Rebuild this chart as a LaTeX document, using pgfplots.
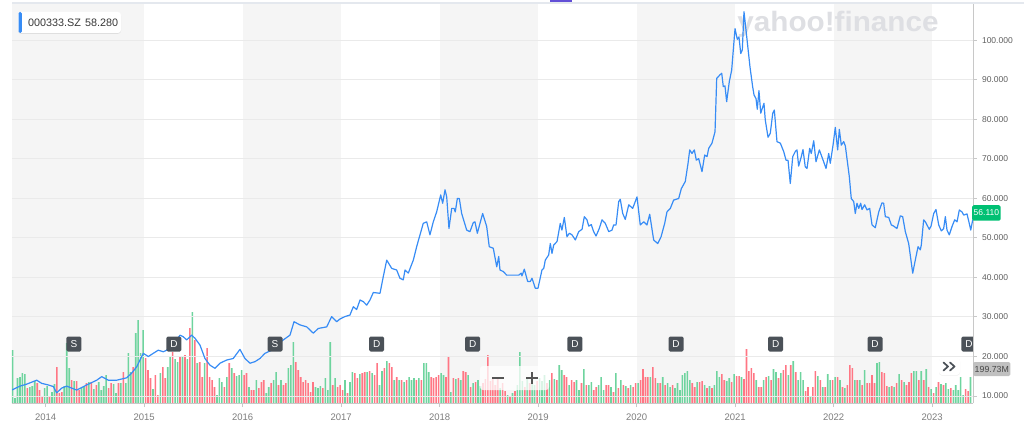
\documentclass[border=0pt]{standalone}
\usepackage{fontspec}
\setmainfont{Liberation Sans}
\usepackage{pgfplots}
\usepackage{pgfplotstable}
\pgfplotsset{compat=1.18}
\usetikzlibrary{shadows}

\definecolor{bandc}{RGB}{245,245,245}
\definecolor{gridc}{RGB}{234,234,234}
\definecolor{axisc}{RGB}{200,200,200}
\definecolor{ylab}{RGB}{95,95,95}
\definecolor{xlab}{RGB}{125,125,125}
\definecolor{priceblue}{RGB}{55,140,245}
\definecolor{volg}{RGB}{110,212,158}
\definecolor{volr}{RGB}{255,118,132}
\definecolor{markc}{RGB}{75,81,88}
\definecolor{upgreen}{RGB}{0,192,115}
\definecolor{wm}{RGB}{222,223,227}
\definecolor{topline}{RGB}{228,232,238}
\definecolor{purp}{RGB}{98,79,214}
\definecolor{boxtext}{RGB}{55,55,55}
\definecolor{volflag}{RGB}{192,192,192}
\definecolor{volflagtext}{RGB}{70,70,70}
\definecolor{zoomc}{RGB}{85,85,85}

% weekly-ish volume, in millions: g = up week, r = down week
\pgfplotstableread[row sep=\\]{
g r\\
318 0\\ 30 0\\ 150 0\\ 156 0\\ 180 0\\ 174 0\\ 0 90\\ 96 0\\ 102 0\\ 132 0\\
0 120\\ 0 78\\ 0 36\\ 90 0\\ 102 0\\ 0 36\\ 66 0\\ 114 0\\ 0 216\\ 0 60\\
0 66\\ 102 0\\ 360 0\\ 210 0\\ 0 138\\ 132 0\\ 0 132\\ 0 78\\ 90 0\\ 102 0\\
0 120\\ 126 0\\ 0 126\\ 84 0\\ 0 108\\ 126 0\\ 78 0\\ 102 0\\ 168 0\\ 0 90\\
0 120\\ 114 0\\ 60 0\\ 0 120\\ 120 0\\ 0 186\\ 120 0\\ 300 0\\ 186 0\\ 0 216\\
420 0\\ 498 0\\ 300 0\\ 438 0\\ 0 270\\ 0 198\\ 0 150\\ 84 0\\ 0 168\\ 0 48\\
180 0\\ 0 216\\ 0 150\\ 216 0\\ 276 0\\ 0 306\\ 264 0\\ 246 0\\ 0 276\\ 276 0\\
0 288\\ 264 0\\ 0 450\\ 546 0\\ 0 378\\ 240 0\\ 0 246\\ 0 156\\ 240 0\\ 0 330\\
0 156\\ 0 138\\ 0 96\\ 48 0\\ 150 0\\ 126 0\\ 0 96\\ 156 0\\ 0 240\\ 210 0\\
0 180\\ 162 0\\ 168 0\\ 198 0\\ 0 168\\ 0 180\\ 96 0\\ 0 78\\ 0 78\\ 138 0\\
0 90\\ 0 126\\ 0 138\\ 60 0\\ 96 0\\ 0 120\\ 138 0\\ 186 0\\ 0 108\\ 138 0\\
0 108\\ 0 120\\ 210 0\\ 228 0\\ 366 0\\ 0 246\\ 0 198\\ 0 156\\ 0 126\\ 0 138\\
0 120\\ 0 66\\ 0 126\\ 96 0\\ 90 0\\ 102 0\\ 0 90\\ 150 0\\ 78 0\\ 366 0\\
0 108\\ 150 0\\ 0 96\\ 0 108\\ 0 78\\ 138 0\\ 0 60\\ 126 0\\ 186 0\\ 0 180\\
0 150\\ 174 0\\ 0 180\\ 0 186\\ 186 0\\ 0 192\\ 180 0\\ 0 168\\ 0 240\\ 108 0\\
192 0\\ 0 210\\ 252 0\\ 0 240\\ 0 216\\ 138 0\\ 0 156\\ 138 0\\ 0 138\\ 126 0\\
0 138\\ 156 0\\ 138 0\\ 150 0\\ 0 138\\ 150 0\\ 0 138\\ 240 0\\ 240 0\\ 186 0\\
0 156\\ 0 150\\ 0 156\\ 0 168\\ 180 0\\ 168 0\\ 0 156\\ 0 276\\ 66 0\\ 0 150\\
144 0\\ 0 150\\ 138 0\\ 0 192\\ 0 186\\ 168 0\\ 0 96\\ 120 0\\ 0 126\\ 138 0\\
102 0\\ 0 120\\ 0 144\\ 0 288\\ 0 132\\ 0 156\\ 0 108\\ 0 144\\ 90 0\\ 0 120\\
0 72\\ 48 0\\ 0 36\\ 60 0\\ 0 72\\ 108 0\\ 306 0\\ 132 0\\ 0 96\\ 144 0\\
0 120\\ 156 0\\ 108 0\\ 0 132\\ 150 0\\ 132 0\\ 168 0\\ 0 120\\ 138 0\\ 0 180\\
144 0\\ 0 138\\ 228 0\\ 198 0\\ 0 168\\ 0 156\\ 108 0\\ 0 138\\ 0 126\\ 138 0\\
78 0\\ 0 120\\ 204 0\\ 0 108\\ 108 0\\ 126 0\\ 0 78\\ 0 96\\ 108 0\\ 156 0\\
78 0\\ 0 108\\ 0 108\\ 96 0\\ 0 66\\ 180 0\\ 0 90\\ 138 0\\ 0 108\\ 102 0\\
0 90\\ 108 0\\ 0 96\\ 0 120\\ 120 0\\ 0 138\\ 0 204\\ 0 156\\ 0 156\\ 156 0\\
0 216\\ 0 150\\ 120 0\\ 0 120\\ 156 0\\ 0 108\\ 120 0\\ 96 0\\ 0 108\\ 90 0\\
120 0\\ 78 0\\ 168 0\\ 180 0\\ 192 0\\ 138 0\\ 0 120\\ 0 96\\ 126 0\\ 0 126\\
0 132\\ 108 0\\ 0 90\\ 102 0\\ 0 90\\ 108 0\\ 192 0\\ 156 0\\ 0 174\\ 0 138\\
132 0\\ 150 0\\ 0 126\\ 174 0\\ 0 162\\ 0 162\\ 156 0\\ 0 144\\ 0 324\\ 0 192\\
0 210\\ 0 180\\ 138 0\\ 0 96\\ 0 96\\ 138 0\\ 0 156\\ 162 0\\ 0 138\\ 204 0\\
186 0\\ 0 150\\ 180 0\\ 0 198\\ 0 228\\ 168 0\\ 0 228\\ 252 0\\ 0 186\\ 138 0\\
186 0\\ 138 0\\ 0 72\\ 0 96\\ 36 0\\ 0 96\\ 0 192\\ 162 0\\ 0 138\\ 96 0\\
0 96\\ 174 0\\ 138 0\\ 0 138\\ 156 0\\ 0 156\\ 138 0\\ 0 96\\ 90 0\\ 0 108\\
0 228\\ 0 210\\ 138 0\\ 0 138\\ 138 0\\ 0 108\\ 198 0\\ 0 120\\ 0 120\\ 0 168\\
0 120\\ 240 0\\ 246 0\\ 0 186\\ 0 180\\ 0 102\\ 96 0\\ 0 102\\ 96 0\\ 0 120\\
174 0\\ 0 138\\ 126 0\\ 0 108\\ 0 126\\ 0 180\\ 192 0\\ 192 0\\ 0 138\\ 192 0\\
0 138\\ 204 0\\ 0 96\\ 84 0\\ 0 60\\ 96 0\\ 0 126\\ 114 0\\ 0 108\\ 120 0\\
84 0\\ 0 90\\ 78 0\\ 108 0\\ 78 0\\ 156 0\\ 48 0\\ 0 84\\ 0 72\\ 156 0\\
}\vol

\begin{document}
\begin{tikzpicture}[x=1pt,y=1pt]
\useasboundingbox (0,0) rectangle (1024,431);

% volume layer with year bands
\begin{axis}[
    at={(12pt,28pt)}, anchor=south west,
    scale only axis, width=961pt, height=400pt,
    xmin=2013.659, xmax=2023.415, ymin=0, ymax=2400,
    hide axis,
]
\fill[bandc] (axis cs:2013.659,0) rectangle (axis cs:2015,2400);
\fill[bandc] (axis cs:2016,0) rectangle (axis cs:2017,2400);
\fill[bandc] (axis cs:2018,0) rectangle (axis cs:2019,2400);
\fill[bandc] (axis cs:2020,0) rectangle (axis cs:2021,2400);
\fill[bandc] (axis cs:2022,0) rectangle (axis cs:2023,2400);
\node[text=wm, font=\fontsize{28}{28}\selectfont\bfseries, xscale=1.06]
    at (rel axis cs:0.8595,0.9475) {yahoo!finance};
\addplot[ybar, bar width=1.6pt, bar shift=0pt, draw=none, fill=volg]
    table[x expr=2013.665+0.025*\coordindex, y=g] {\vol};
\addplot[ybar, bar width=1.6pt, bar shift=0pt, draw=none, fill=volr]
    table[x expr=2013.665+0.025*\coordindex, y=r] {\vol};
\end{axis}

% price layer
\begin{axis}[
    at={(12pt,28pt)}, anchor=south west,
    scale only axis, width=961pt, height=400pt,
    xmin=2013.659, xmax=2023.415, ymin=8.228, ymax=109.49,
    axis line style={draw=none},
    xtick pos=bottom, ytick pos=right, yticklabel pos=right,
    tick align=outside, major tick length=4pt,
    tick style={axisc, line width=1pt},
    ymajorgrids=true, grid style={gridc, line width=1pt},
    ytick={10,20,30,40,50,60,70,80,90,100},
    yticklabels={10.000,20.000,30.000,40.000,50.000,60.000,70.000,80.000,90.000,100.000},
    xtick={2014,2015,2016,2017,2018,2019,2020,2021,2022,2023},
    xticklabels={2014,2015,2016,2017,2018,2019,2020,2021,2022,2023},
    yticklabel style={font=\fontsize{8.5}{10}\selectfont, text=ylab, xshift=1.5pt},
    xticklabel style={font=\fontsize{9.5}{11}\selectfont, text=xlab, yshift=-3.5pt},
]
\addplot[priceblue, line width=1.2pt, line join=round] coordinates {
(2013.656,11.5) (2013.740,12.5) (2013.808,13.0) (2013.910,14.0) (2013.960,13.2)
(2014.027,12.8) (2014.078,12.4) (2014.113,10.8) (2014.163,12.0) (2014.214,12.5)
(2014.265,12.0) (2014.316,11.5) (2014.417,12.8) (2014.519,14.0) (2014.570,14.9)
(2014.637,14.0) (2014.722,14.0) (2014.823,14.6) (2014.874,15.8) (2014.925,17.4)
(2014.992,20.8) (2015.043,20.0) (2015.093,20.8) (2015.144,21.6) (2015.195,21.2)
(2015.229,21.6) (2015.296,22.9) (2015.364,25.4) (2015.398,25.0) (2015.432,24.2)
(2015.483,25.4) (2015.517,24.6) (2015.567,22.9) (2015.618,19.5) (2015.669,17.8)
(2015.720,17.0) (2015.770,18.3) (2015.838,19.1) (2015.905,19.5) (2015.973,21.8)
(2016.024,19.5) (2016.075,18.3) (2016.126,18.7) (2016.176,19.5) (2016.227,20.8)
(2016.295,21.6) (2016.346,22.9) (2016.413,24.2) (2016.481,25.4) (2016.522,28.8)
(2016.583,28.0) (2016.651,27.5) (2016.718,25.9) (2016.768,27.1) (2016.854,27.5)
(2016.904,30.1) (2016.955,28.8) (2016.989,29.5) (2017.039,30.1) (2017.090,30.5)
(2017.124,32.6) (2017.158,31.9) (2017.192,34.3) (2017.225,33.9) (2017.260,33.0)
(2017.293,34.3) (2017.327,36.2) (2017.395,36.0) (2017.428,40.2) (2017.463,44.4)
(2017.514,42.3) (2017.564,41.9) (2017.598,39.8) (2017.631,39.4) (2017.649,41.9)
(2017.682,41.1) (2017.733,44.4) (2017.767,47.8) (2017.801,50.8) (2017.834,53.7)
(2017.869,54.1) (2017.902,50.8) (2017.936,54.1) (2017.970,56.6) (2018.011,60.9)
(2018.031,58.8) (2018.055,62.2) (2018.072,60.4) (2018.095,52.4) (2018.123,57.5)
(2018.146,57.5) (2018.159,56.6) (2018.180,60.0) (2018.200,60.0) (2018.224,56.2)
(2018.275,52.0) (2018.308,51.6) (2018.342,53.9) (2018.359,54.1) (2018.383,51.2)
(2018.437,56.2) (2018.478,52.9) (2018.504,47.8) (2018.545,47.4) (2018.580,42.7)
(2018.600,45.3) (2018.613,41.9) (2018.647,41.5) (2018.681,40.6) (2018.735,40.6)
(2018.803,40.6) (2018.829,41.1) (2018.836,40.4) (2018.860,42.1) (2018.894,39.0)
(2018.921,39.0) (2018.938,39.8) (2018.971,37.3) (2018.999,37.3) (2019.039,41.9)
(2019.057,42.3) (2019.073,44.4) (2019.107,45.7) (2019.124,48.6) (2019.141,46.1)
(2019.158,48.2) (2019.192,49.1) (2019.225,53.7) (2019.242,52.0) (2019.266,55.2)
(2019.293,50.3) (2019.317,51.2) (2019.344,50.8) (2019.378,49.5) (2019.412,51.6)
(2019.446,52.2) (2019.469,55.4) (2019.496,54.6) (2019.514,53.0) (2019.540,53.4)
(2019.564,51.6) (2019.588,50.5) (2019.621,52.4) (2019.649,54.6) (2019.682,53.7)
(2019.717,51.6) (2019.750,52.0) (2019.767,53.3) (2019.791,53.3) (2019.818,59.2)
(2019.834,59.8) (2019.859,56.2) (2019.885,54.7) (2019.920,58.4) (2019.960,57.5)
(2020.004,60.4) (2020.037,53.3) (2020.072,54.1) (2020.105,53.3) (2020.133,56.0)
(2020.173,49.5) (2020.214,48.6) (2020.248,50.3) (2020.285,53.7) (2020.308,56.6)
(2020.342,57.5) (2020.376,59.6) (2020.427,60.0) (2020.454,62.5) (2020.494,64.3)
(2020.522,68.9) (2020.539,72.3) (2020.562,71.4) (2020.586,72.3) (2020.606,69.7)
(2020.630,70.1) (2020.664,66.8) (2020.691,71.0) (2020.715,70.6) (2020.732,72.7)
(2020.765,74.0) (2020.796,76.9) (2020.813,90.4) (2020.846,91.3) (2020.864,91.7)
(2020.880,88.3) (2020.897,88.5) (2020.914,84.5) (2020.941,89.6) (2020.965,92.5)
(2020.999,103.0) (2021.022,100.3) (2021.039,100.9) (2021.057,96.7) (2021.073,97.6)
(2021.090,107.3) (2021.118,100.9) (2021.151,93.3) (2021.178,88.3) (2021.192,86.2)
(2021.212,85.3) (2021.225,82.6) (2021.242,87.3) (2021.260,81.6) (2021.293,84.1)
(2021.306,79.9) (2021.334,75.5) (2021.357,76.5) (2021.382,81.6) (2021.398,82.4)
(2021.425,74.4) (2021.459,74.0) (2021.493,71.9) (2021.517,69.7) (2021.537,69.7)
(2021.560,63.8) (2021.585,70.6) (2021.611,71.9) (2021.628,72.3) (2021.645,68.2)
(2021.672,70.6) (2021.689,72.4) (2021.712,68.0) (2021.730,67.6) (2021.757,72.7)
(2021.773,71.4) (2021.798,74.6) (2021.821,69.3) (2021.855,72.3) (2021.899,69.3)
(2021.923,67.6) (2021.950,71.4) (2021.966,68.9) (2021.994,73.5) (2022.017,78.0)
(2022.041,72.3) (2022.058,77.5) (2022.078,73.5) (2022.102,74.4) (2022.119,73.3)
(2022.146,68.1) (2022.159,65.6) (2022.179,60.0) (2022.204,59.2) (2022.220,56.2)
(2022.237,58.8) (2022.255,57.5) (2022.275,58.8) (2022.288,57.2) (2022.315,58.4)
(2022.339,57.1) (2022.366,57.5) (2022.390,53.3) (2022.423,52.6) (2022.458,56.6)
(2022.491,58.9) (2022.508,58.8) (2022.525,55.4) (2022.559,55.2) (2022.586,53.3)
(2022.610,53.0) (2022.643,52.4) (2022.677,55.6) (2022.701,55.4) (2022.728,51.6)
(2022.762,48.6) (2022.803,41.1) (2022.829,44.4) (2022.857,47.8) (2022.880,47.0)
(2022.890,48.2) (2022.914,54.6) (2022.931,54.1) (2022.971,52.2) (2022.989,53.0)
(2023.016,56.2) (2023.039,57.2) (2023.067,53.3) (2023.093,51.8) (2023.117,52.4)
(2023.134,55.4) (2023.151,52.0) (2023.174,50.8) (2023.202,52.9) (2023.229,54.6)
(2023.253,54.1) (2023.276,57.1) (2023.303,56.6) (2023.321,55.8) (2023.354,56.1)
(2023.377,53.7) (2023.392,52.0) (2023.412,54.6)
};
% split / dividend markers
\tikzset{ev/.style={fill=markc, text=white, rounded corners=1.5pt, inner sep=0pt,
    minimum width=15pt, minimum height=15pt, font=\fontsize{10}{10}\selectfont}}
\node[ev] at (axis cs:2014.288,23.16) {S};
\node[ev] at (axis cs:2015.303,23.16) {D};
\node[ev] at (axis cs:2016.329,23.16) {S};
\node[ev] at (axis cs:2017.361,23.16) {D};
\node[ev] at (axis cs:2018.336,23.16) {D};
\node[ev] at (axis cs:2019.374,23.16) {D};
\node[ev] at (axis cs:2020.400,23.16) {D};
\node[ev] at (axis cs:2021.412,23.16) {D};
\node[ev] at (axis cs:2022.420,23.16) {D};
\node[ev] at (axis cs:2023.374,23.16) {D};
\end{axis}

% frame lines
\draw[axisc, line width=1pt] (973,28) -- (973,428);
\draw[axisc, line width=1pt] (12,28) -- (973,28);
\draw[topline, line width=1.2pt] (12,428) -- (1024,428);
\fill[purp] (550,428.5) rectangle (572,431);

% ticker box
\fill[white, drop shadow={shadow xshift=0pt, shadow yshift=-0.8pt, opacity=0.18}, rounded corners=3pt]
    (18,398) rectangle (121,419);
\fill[priceblue, rounded corners=1.5pt] (18.5,398) rectangle (21.8,419);
\node[anchor=west, inner sep=0pt, text=boxtext,
    font=\fontsize{10.8}{13}\selectfont] at (28,408.5) {000333.SZ\hspace{4pt}58.280};

% last price and volume flags
\node[fill=upgreen, text=white, rounded corners=1.5pt, inner xsep=1.5pt, inner ysep=0pt,
    minimum height=15.5pt, font=\fontsize{8.5}{10}\selectfont, anchor=west] at (972,218) {56.110};
\node[fill=volflag, text=volflagtext,
    rounded corners=1.5pt, inner xsep=1.5pt, inner ysep=0pt, minimum height=14pt,
    font=\fontsize{8.8}{10}\selectfont, anchor=west] at (973,62) {199.73M};

% zoom controls
\fill[white, opacity=0.75, rounded corners=3pt] (480,41) rectangle (549,65);
\draw[zoomc, line width=2pt] (492,53) -- (504,53);
\draw[zoomc, line width=2pt] (526,53) -- (538,53) (532,47) -- (532,59);

% scroll button
\fill[white, drop shadow={shadow xshift=0pt, shadow yshift=-0.6pt, opacity=0.15}, rounded corners=3pt]
    (939,56) rectangle (960,73);
\draw[markc, line width=1.7pt, line cap=round, line join=round]
    (943.5,68.5) -- (948,64.5) -- (943.5,60.5) (950,68.5) -- (954.5,64.5) -- (950,60.5);
\end{tikzpicture}
\end{document}
